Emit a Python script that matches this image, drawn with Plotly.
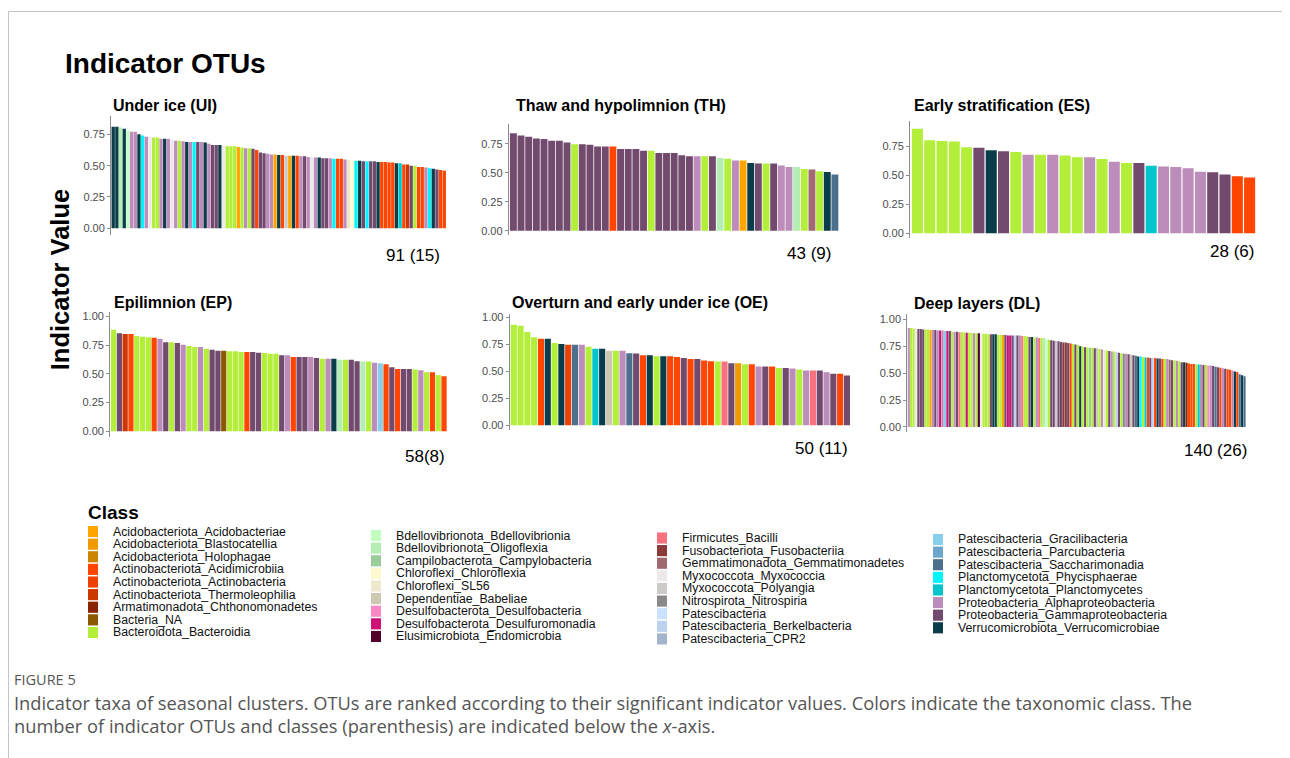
import plotly.graph_objects as go

W, H = 1290, 758
OFF = 8  # page body margin in the browser

# ---------------- legend classes ----------------
class_codes = ["Aa", "Ab", "Ah", "Xm", "Xa", "Xt", "Ch", "NA", "Bc",
               "Bd", "Ol", "Cy", "Cf", "SL", "Bb", "Df", "Dm", "En",
               "Fi", "Fu", "Ge", "Mx", "Po", "Ni", "Pa", "Be", "CP",
               "Gr", "Pc", "Sa", "Ph", "Pl", "Al", "Ga", "Ve"]
class_names = ["Acidobacteriota_Acidobacteriae", "Acidobacteriota_Blastocatellia",
               "Acidobacteriota_Holophagae", "Actinobacteriota_Acidimicrobiia",
               "Actinobacteriota_Actinobacteria", "Actinobacteriota_Thermoleophilia",
               "Armatimonadota_Chthonomonadetes", "Bacteria_NA", "Bacteroidota_Bacteroidia",
               "Bdellovibrionota_Bdellovibrionia", "Bdellovibrionota_Oligoflexia",
               "Campilobacterota_Campylobacteria", "Chloroflexi_Chloroflexia",
               "Chloroflexi_SL56", "Dependentiae_Babeliae", "Desulfobacterota_Desulfobacteria",
               "Desulfobacterota_Desulfuromonadia", "Elusimicrobiota_Endomicrobia",
               "Firmicutes_Bacilli", "Fusobacteriota_Fusobacteriia",
               "Gemmatimonadota_Gemmatimonadetes", "Myxococcota_Myxococcia",
               "Myxococcota_Polyangia", "Nitrospirota_Nitrospiria", "Patescibacteria",
               "Patescibacteria_Berkelbacteria", "Patescibacteria_CPR2",
               "Patescibacteria_Gracilibacteria", "Patescibacteria_Parcubacteria",
               "Patescibacteria_Saccharimonadia", "Planctomycetota_Phycisphaerae",
               "Planctomycetota_Planctomycetes", "Proteobacteria_Alphaproteobacteria",
               "Proteobacteria_Gammaproteobacteria", "Verrucomicrobiota_Verrucomicrobiae"]
class_colors = ["#FFA500", "#EE9A00", "#CD8500", "#FF4500", "#EE4000", "#CD3700",
                "#8B2500", "#8B5A00", "#B3EE3A", "#C1FFC1", "#B4EEB4", "#9BCD9B",
                "#FFFACD", "#EEE8CD", "#CDC8B1", "#F988C5", "#CD1076", "#500028",
                "#F7727E", "#8B3A3A", "#A06A6E", "#EEE9E9", "#CDC9C9", "#8B8989",
                "#CAE1FF", "#BCD2EE", "#A2B5CD", "#87CEEB", "#6CA6CD", "#4A708B",
                "#00F5FF", "#00C5CD", "#BC8CBA", "#724A6E", "#0B3C49"]

panel_titles = ["Under ice (UI)", "Thaw and hypolimnion (TH)", "Early stratification (ES)",
                "Epilimnion (EP)", "Overturn and early under ice (OE)", "Deep layers (DL)"]
panel_counts = ["91 (15)", "43 (9)", "28 (6)", "58(8)", "50 (11)", "140 (26)"]

# ---------------- data ----------------
ui_values = [0.81, 0.81, 0.805, 0.795, 0.78, 0.77, 0.77, 0.75, 0.74, 0.73,
             0.73, 0.725, 0.725, 0.715, 0.715, 0.715, 0.71, 0.70, 0.70, 0.695,
             0.69, 0.69, 0.69, 0.69, 0.69, 0.685, 0.675, 0.665, 0.665, 0.665,
             0.66, 0.655, 0.655, 0.655, 0.65, 0.645, 0.64, 0.64, 0.635, 0.625,
             0.605, 0.60, 0.595, 0.59, 0.59, 0.585, 0.585, 0.58, 0.58, 0.58,
             0.58, 0.575, 0.575, 0.57, 0.57, 0.565, 0.565, 0.56, 0.56, 0.56,
             0.555, 0.555, 0.555, 0.55, 0.545, 0.54, 0.54, 0.54, 0.535, 0.535,
             0.535, 0.535, 0.53, 0.53, 0.53, 0.525, 0.525, 0.52, 0.52, 0.51,
             0.51, 0.50, 0.50, 0.49, 0.49, 0.485, 0.48, 0.475, 0.47, 0.465,
             0.46]
ui_classes = ["Ve", "Ve", "Ol", "Ve", "Bd", "Al", "Al", "Ve", "Ph", "Al",
              "Mx", "Bc", "Bc", "Al", "Ve", "Al", "Mx", "Al", "Bc", "Al",
              "Ve", "Al", "Ph", "Ga", "Al", "Ve", "Al", "Ga", "Ga", "Ve",
              "Mx", "Bc", "Bc", "Bc", "Aa", "Bc", "Al", "Bc", "Ga", "Xm",
              "Ga", "Ga", "Al", "Al", "Aa", "Ve", "Xm", "Po", "Aa", "Ve",
              "Xm", "Al", "Ga", "Al", "Mx", "Al", "Ve", "Ga", "Ga", "Al",
              "Ph", "Xm", "Xm", "Al", "SL", "Cf", "Ph", "Ve", "Ga", "Ph",
              "Ga", "Ga", "Ve", "Xm", "Xm", "Xm", "Xm", "Ve", "Pl", "Xm",
              "Xt", "Ga", "Bc", "Xm", "Xm", "Al", "Ph", "Ve", "Ga", "Xm",
              "Xm"]

th_values = [0.84, 0.82, 0.81, 0.795, 0.79, 0.775, 0.775, 0.76, 0.745, 0.745,
             0.74, 0.727, 0.727, 0.727, 0.705, 0.705, 0.705, 0.69, 0.69, 0.67,
             0.67, 0.67, 0.65, 0.642, 0.642, 0.642, 0.642, 0.627, 0.62, 0.605,
             0.605, 0.585, 0.58, 0.58, 0.58, 0.562, 0.55, 0.55, 0.533, 0.527,
             0.513, 0.507, 0.485]
th_classes = ["Ga", "Ga", "Ga", "Ga", "Ga", "Ga", "Ga", "Ga", "Bc", "Ga",
              "Ga", "Ga", "Ga", "Xm", "Ga", "Ga", "Ga", "Ga", "Bc", "Ga",
              "Ga", "Ga", "Ga", "Ga", "Al", "Bc", "Ga", "Ol", "Bc", "Al",
              "Aa", "Ve", "Ga", "Bc", "Ga", "Al", "Al", "Ol", "Bc", "Ge",
              "Bc", "Ve", "Sa"]

es_values = [0.90, 0.80, 0.795, 0.79, 0.74, 0.735, 0.715, 0.705, 0.70, 0.675,
             0.675, 0.675, 0.67, 0.655, 0.655, 0.64, 0.615, 0.605, 0.605, 0.58,
             0.575, 0.57, 0.56, 0.53, 0.525, 0.505, 0.49, 0.48]
es_classes = ["Bc", "Bc", "Bc", "Bc", "Bc", "Ga", "Ve", "Ga", "Bc", "Al",
              "Bc", "Al", "Bc", "Bc", "Al", "Bc", "Al", "Bc", "Ga", "Pl",
              "Al", "Al", "Al", "Al", "Ga", "Ga", "Xm", "Xm"]

ep_values = [0.885, 0.855, 0.847, 0.847, 0.83, 0.824, 0.82, 0.815, 0.806, 0.777,
             0.777, 0.769, 0.754, 0.743, 0.734, 0.734, 0.72, 0.711, 0.702, 0.702,
             0.697, 0.697, 0.69, 0.69, 0.69, 0.685, 0.682, 0.676, 0.676, 0.662,
             0.662, 0.647, 0.647, 0.647, 0.647, 0.639, 0.633, 0.633, 0.633, 0.624,
             0.624, 0.624, 0.61, 0.607, 0.607, 0.598, 0.592, 0.584, 0.558, 0.543,
             0.543, 0.543, 0.538, 0.532, 0.514, 0.514, 0.491, 0.48]
ep_classes = ["Bc", "Ga", "Xt", "Xm", "Bc", "Bc", "Bc", "Xm", "Al", "Ga",
              "Bc", "Ga", "Al", "Bc", "Bc", "Al", "Bc", "Ga", "Ga", "NA",
              "Bc", "Bc", "Bc", "Xm", "Ga", "Ga", "Bc", "Bc", "Bc", "Ga",
              "Al", "Xm", "Ga", "Ga", "Al", "Ga", "Bc", "Al", "Ve", "Ol",
              "Bc", "Ga", "Ga", "Ol", "Bc", "Al", "Gr", "Xm", "Ga", "Xm",
              "Ga", "Ga", "Bc", "Al", "Bc", "Xm", "Bc", "Xm"]

oe_values = [0.932, 0.923, 0.865, 0.818, 0.803, 0.803, 0.763, 0.754, 0.748, 0.748,
             0.748, 0.729, 0.71, 0.71, 0.692, 0.692, 0.692, 0.668, 0.665, 0.649,
             0.649, 0.64, 0.64, 0.64, 0.634, 0.625, 0.615, 0.615, 0.60, 0.594,
             0.591, 0.591, 0.575, 0.575, 0.566, 0.566, 0.545, 0.545, 0.545, 0.532,
             0.532, 0.526, 0.517, 0.508, 0.508, 0.508, 0.492, 0.477, 0.477, 0.462]
oe_classes = ["Bc", "Bc", "Bc", "Bc", "Xm", "Ve", "Bc", "Ve", "Xa", "Sa",
              "Al", "Bc", "Pl", "Ve", "Bb", "Bc", "Al", "Sa", "Ga", "Xm",
              "Ve", "Bc", "Ve", "Xm", "Xm", "Ga", "Xm", "Ga", "Xm", "Xm",
              "Bc", "Fi", "Ga", "Ab", "Bc", "Xm", "Al", "Ga", "Xm", "Bc",
              "Ga", "Al", "Bc", "Al", "Fi", "Ga", "Al", "Ga", "Xm", "Ga"]

dl_values = [0.92, 0.92, 0.915, 0.915, 0.91, 0.91, 0.905, 0.905, 0.905, 0.90,
             0.90, 0.90, 0.895, 0.895, 0.895, 0.89, 0.89, 0.89, 0.885, 0.885,
             0.885, 0.88, 0.88, 0.88, 0.875, 0.875, 0.875, 0.87, 0.87, 0.87,
             0.865, 0.865, 0.865, 0.86, 0.86, 0.86, 0.86, 0.855, 0.855, 0.855,
             0.855, 0.85, 0.85, 0.85, 0.85, 0.85, 0.85, 0.845, 0.845, 0.84,
             0.835, 0.835, 0.83, 0.83, 0.825, 0.825, 0.825, 0.815, 0.81, 0.805,
             0.80, 0.80, 0.795, 0.79, 0.785, 0.785, 0.78, 0.775, 0.77, 0.765,
             0.76, 0.75, 0.745, 0.74, 0.74, 0.735, 0.735, 0.73, 0.73, 0.725,
             0.72, 0.715, 0.71, 0.705, 0.70, 0.70, 0.695, 0.69, 0.685, 0.68,
             0.68, 0.675, 0.67, 0.665, 0.66, 0.655, 0.655, 0.65, 0.645, 0.645,
             0.64, 0.64, 0.64, 0.635, 0.635, 0.63, 0.63, 0.63, 0.625, 0.62,
             0.62, 0.615, 0.61, 0.60, 0.60, 0.595, 0.59, 0.585, 0.585, 0.58,
             0.58, 0.58, 0.575, 0.575, 0.57, 0.57, 0.565, 0.56, 0.555, 0.55,
             0.545, 0.54, 0.535, 0.53, 0.525, 0.515, 0.51, 0.49, 0.48, 0.47]
dl_classes = ["Al", "Bc", "Bc", "Mx", "Ga", "Ga", "Ga", "Bc", "Bc", "Aa",
              "Al", "Ga", "Al", "Dm", "Al", "Gr", "Dm", "Ga", "Bc", "Al",
              "Ga", "Fi", "Bc", "Bc", "Dm", "Bc", "Bc", "Al", "Bc", "En",
              "Mx", "Bc", "Bc", "Bc", "Ga", "Ve", "Ve", "Bc", "Bc", "Aa",
              "Ga", "Dm", "Dm", "Ga", "Be", "Ga", "Al", "Fi", "Bc", "Bc",
              "Ga", "Ve", "Bc", "Al", "Fi", "Bc", "Ol", "Bd", "Bc", "Ga",
              "Ga", "Po", "Ga", "Ga", "Fu", "Fu", "Ga", "Xm", "Bc", "Ga",
              "Bc", "Ve", "Bc", "Ga", "Bc", "Cy", "Bc", "Ga", "Bb", "Bc",
              "Al", "SL", "Bc", "Ga", "Al", "Bc", "Be", "Ga", "Bc", "Ni",
              "Al", "Ga", "Bb", "Ga", "Sa", "Ve", "Ph", "Bc", "Pl", "Xm",
              "Ga", "Be", "Xm", "Ve", "Ga", "Xm", "Bc", "Al", "Ge", "Ga",
              "Bc", "Al", "Bc", "Ga", "Ve", "Ch", "Xm", "Xm", "Xm", "Bc",
              "Pl", "Al", "Ga", "Bc", "Df", "Al", "Ga", "Sa", "Ga", "Xm",
              "Al", "Ga", "Xm", "Xm", "Al", "Ve", "Xm", "Sa", "Ve", "Sa"]

row1_ticks = [0, 0.25, 0.5, 0.75]
row2_ticks = [0, 0.25, 0.5, 0.75, 1.0]


def px_x(x):
    return (x - OFF) / W


def px_y(y):
    return 1 - (y - OFF) / H


color_of = dict(zip(class_codes, class_colors))
name_of = dict(zip(class_codes, class_names))

# layout geometry in page pixels: x domain, y domain (top, bottom), y range
panels = [
    (ui_values, ui_classes, (111.0, 446.5), (113.3, 233.3), (-0.053, 0.90), row1_ticks),
    (th_values, th_classes, (508.8, 839.5), (121.7, 233.3), (-0.034, 0.92), row1_ticks),
    (es_values, es_classes, (910.0, 1257.0), (118.3, 236.7), (-0.043, 0.97), row1_ticks),
    (ep_values, ep_classes, (110.1, 447.5), (311.0, 436.7), (-0.05, 1.04), row2_ticks),
    (oe_values, oe_classes, (509.7, 851.0), (313.3, 430.0), (-0.046, 1.03), row2_ticks),
    (dl_values, dl_classes, (907.3, 1246.0), (312.9, 432.1), (-0.05, 1.05), row2_ticks),
]
title_pos = [(111, 103), (514, 103), (912, 103), (111.5, 301), (509.5, 301), (912, 302)]
count_pos = [(442, 254), (833, 252), (1256, 250), (447, 456), (850, 448), (1249, 450)]

fig = go.Figure()
layout_axes = {}
for i, (vals, cls, xd, yd, yr, tv) in enumerate(panels, start=1):
    sfx = "" if i == 1 else str(i)
    n = len(vals)
    fig.add_trace(go.Bar(
        x=list(range(1, n + 1)), y=vals,
        marker=dict(color=[color_of[c] for c in cls], line=dict(width=0)),
        hovertext=[name_of[c] for c in cls],
        xaxis="x" + sfx, yaxis="y" + sfx, showlegend=False))
    layout_axes["xaxis" + sfx] = dict(
        domain=[px_x(xd[0]), px_x(xd[1])], range=[0.4, n + 0.6],
        visible=False, anchor="y" + sfx, fixedrange=True)
    layout_axes["yaxis" + sfx] = dict(
        domain=[px_y(yd[1]), px_y(yd[0])], range=list(yr), anchor="x" + sfx,
        tickvals=tv, tickformat=".2f", ticks="outside", ticklen=3,
        tickcolor="#8c8c8c", tickwidth=1, showline=True, linecolor="#8c8c8c",
        linewidth=1, showgrid=False, zeroline=False,
        tickfont=dict(family="Liberation Sans, Arial", size=11, color="#4d4d4d"))

annotations = []
shapes = []

# main title and axis title
annotations.append(dict(text="<b>Indicator OTUs</b>", x=px_x(63), y=px_y(61),
                        xref="paper", yref="paper", xanchor="left", yanchor="middle",
                        showarrow=False,
                        font=dict(family="Liberation Sans, Arial", size=28, color="#000")))
annotations.append(dict(text="<b>Indicator Value</b>", x=px_x(60), y=px_y(279),
                        xref="paper", yref="paper", xanchor="center", yanchor="middle",
                        textangle=-90, showarrow=False,
                        font=dict(family="Liberation Sans, Arial", size=25.5, color="#000")))

for (tx, ty), t in zip(title_pos, panel_titles):
    annotations.append(dict(text="<b>" + t + "</b>", x=px_x(tx), y=px_y(ty),
                            xref="paper", yref="paper", xanchor="left", yanchor="middle",
                            showarrow=False,
                            font=dict(family="Liberation Sans, Arial", size=16, color="#000")))
for (cx, cy), t in zip(count_pos, panel_counts):
    annotations.append(dict(text=t, x=px_x(cx), y=px_y(cy),
                            xref="paper", yref="paper", xanchor="right", yanchor="middle",
                            showarrow=False,
                            font=dict(family="Liberation Sans, Arial", size=17, color="#000")))

# legend
annotations.append(dict(text="<b>Class</b>", x=px_x(86), y=px_y(513),
                        xref="paper", yref="paper", xanchor="left", yanchor="middle",
                        showarrow=False,
                        font=dict(family="Liberation Sans, Arial", size=19, color="#000")))
col_text_x = [111, 394, 680, 956]
col_first_y = [532, 536, 538.5, 540]
row_step = 12.7
for k, (code, name) in enumerate(zip(class_codes, class_names)):
    col = k // 9
    row = k % 9
    tx = col_text_x[col]
    cy = col_first_y[col] + row * row_step
    shapes.append(dict(type="rect", xref="paper", yref="paper",
                       x0=px_x(tx - 23), x1=px_x(tx - 13),
                       y0=px_y(cy + 5.6), y1=px_y(cy - 5.6),
                       fillcolor=color_of[code], line=dict(width=0)))
    annotations.append(dict(text=name, x=px_x(tx), y=px_y(cy),
                            xref="paper", yref="paper", xanchor="left", yanchor="middle",
                            showarrow=False,
                            font=dict(family="Liberation Sans, Arial", size=12.3, color="#111")))

# caption
annotations.append(dict(text="FIGURE 5", x=px_x(12), y=px_y(681),
                        xref="paper", yref="paper", xanchor="left", yanchor="middle",
                        showarrow=False,
                        font=dict(family="Open Sans", size=14.5, color="#555")))
annotations.append(dict(
    text="Indicator taxa of seasonal clusters. OTUs are ranked according to their significant "
         "indicator values. Colors indicate the taxonomic class. The",
    x=px_x(12), y=px_y(704), xref="paper", yref="paper", xanchor="left", yanchor="middle",
    showarrow=False, font=dict(family="Open Sans", size=18.3, color="#555")))
annotations.append(dict(
    text="number of indicator OTUs and classes (parenthesis) are indicated below the <i>x</i>-axis.",
    x=px_x(12), y=px_y(727), xref="paper", yref="paper", xanchor="left", yanchor="middle",
    showarrow=False, font=dict(family="Open Sans", size=18.3, color="#555")))

# frame
shapes.append(dict(type="line", xref="paper", yref="paper", x0=px_x(8.5), x1=1,
                   y0=px_y(8.5), y1=px_y(8.5), line=dict(color="#c4c4c4", width=1)))
shapes.append(dict(type="line", xref="paper", yref="paper", x0=px_x(8.5), x1=px_x(8.5),
                   y0=px_y(8.5), y1=0, line=dict(color="#c4c4c4", width=1)))

fig.update_layout(
    width=W, height=H, margin=dict(l=0, r=0, t=0, b=0),
    paper_bgcolor="white", plot_bgcolor="white",
    bargap=0.1, showlegend=False,
    annotations=annotations, shapes=shapes,
    **layout_axes)

fig.write_html("out.html")
